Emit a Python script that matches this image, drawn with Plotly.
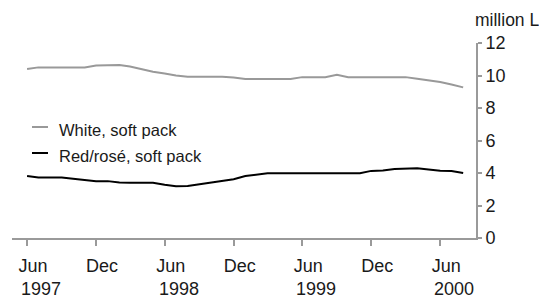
import plotly.graph_objects as go
import pandas as pd

months = pd.date_range("1997-06-01", "2000-08-01", freq="MS")

white_soft = [10.4, 10.5, 10.5, 10.5, 10.5, 10.5, 10.62, 10.65, 10.65, 10.55,
              10.38, 10.23, 10.12, 10.0, 9.93, 9.93, 9.93, 9.93, 9.88, 9.78,
              9.78, 9.78, 9.78, 9.78, 9.9, 9.9, 9.9, 10.05, 9.9, 9.9,
              9.9, 9.9, 9.9, 9.9, 9.8, 9.7, 9.6, 9.45, 9.27]
red_soft = [3.82, 3.73, 3.73, 3.73, 3.65, 3.55, 3.5, 3.5, 3.42, 3.4,
            3.4, 3.4, 3.28, 3.18, 3.2, 3.3, 3.38, 3.48, 3.62, 3.82,
            3.92, 3.98, 3.98, 3.98, 3.98, 3.98, 3.98, 3.98, 3.98, 3.98,
            4.13, 4.15, 4.25, 4.29, 4.29, 4.22, 4.14, 4.12, 4.0]

series_names = ["White, soft pack", "Red/rosé, soft pack"]
tick_dates = ["1997-06-01", "1997-12-01", "1998-06-01", "1998-12-01",
              "1999-06-01", "1999-12-01", "2000-06-01"]
tick_labels = ["Jun", "Dec", "Jun", "Dec", "Jun", "Dec", "Jun"]
year_dates = ["1997-06-01", "1998-06-01", "1999-06-01", "2000-06-01"]
year_labels = ["1997", "1998", "1999", "2000"]
y_ticks = [0, 2, 4, 6, 8, 10, 12]

FONT = "Liberation Sans, Arial, sans-serif"
TXT = "#1a1a1a"
AX = "#9a9a9a"
GREY = "#999999"
FS = 18

fig = go.Figure()
fig.add_trace(go.Scatter(x=months, y=white_soft, mode="lines", name=series_names[0],
                         line=dict(color=GREY, width=2), showlegend=False))
fig.add_trace(go.Scatter(x=months, y=red_soft, mode="lines", name=series_names[1],
                         line=dict(color="#000000", width=2), showlegend=False))

# page body has an 8px margin: work in figure coordinates = screen - 8
W, H = 539, 292
ml, mr, mt, mb = 4, 71, 35, 62
pw, ph = W - ml - mr, H - mt - mb
OFF = 8

def px(xs):
    return (xs - OFF - ml) / pw

def py(ys):
    return (H - mb - (ys - OFF)) / ph

# manual legend
for name, col, ly, ty in [(series_names[0], GREY, 127, 130), (series_names[1], "#000000", 153, 156)]:
    fig.add_shape(type="line", xref="paper", yref="paper", x0=px(32), x1=px(48),
                  y0=py(ly), y1=py(ly), line=dict(color=col, width=2))
    fig.add_annotation(text=name, xref="paper", yref="paper", x=px(57), y=py(ty),
                       xanchor="left", yanchor="middle", showarrow=False,
                       font=dict(family=FONT, size=16.5, color=TXT))

for d, t in zip(year_dates, year_labels):
    fig.add_annotation(text=t, x=d, xref="x", yref="paper", y=0, yshift=-51, xshift=-8,
                       xanchor="left", yanchor="middle", showarrow=False,
                       font=dict(family=FONT, size=FS, color=TXT))

fig.add_annotation(text="million L", xref="paper", yref="paper", x=px(473),
                   y=py(20), xanchor="left", yanchor="middle", showarrow=False,
                   font=dict(family=FONT, size=17.5, color=TXT))

fig.update_layout(
    width=W, height=H,
    margin=dict(l=ml, r=mr, t=mt, b=mb),
    paper_bgcolor="white", plot_bgcolor="white",
    font=dict(family=FONT, size=FS, color=TXT),
    xaxis=dict(range=["1997-04-22", "2000-09-04"], tickvals=tick_dates, ticktext=tick_labels,
               showgrid=False, zeroline=False, showline=True, linecolor=AX, linewidth=2,
               ticks="outside", ticklen=6, tickwidth=1.5, tickcolor=AX,
               ticklabelshift=6, ticklabelstandoff=4,
               tickfont=dict(family=FONT, size=FS, color=TXT)),
    yaxis=dict(range=[0, 12], tickvals=y_ticks, side="right",
               showgrid=False, zeroline=False, showline=True, linecolor=AX, linewidth=2,
               ticks="outside", ticklen=4, tickwidth=1.5, tickcolor=AX,
               tickfont=dict(family=FONT, size=FS, color=TXT)),
)

fig.write_html("out.html")
